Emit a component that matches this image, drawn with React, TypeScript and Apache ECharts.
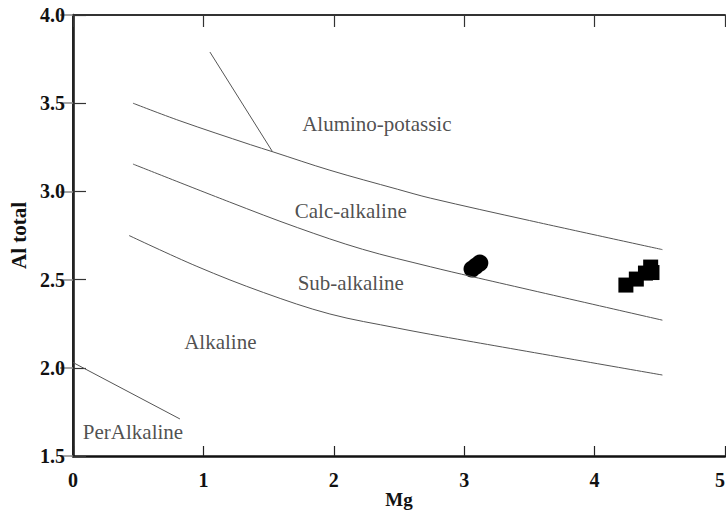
import React, { useEffect, useRef } from "react";
import * as echarts from "echarts";

// Boundary curves [Mg, Al total]
const alkPotassicLine: [number, number][] = [
  [0.46, 3.5], [0.82, 3.4], [1.36, 3.265], [1.53, 3.225], [1.97, 3.12],
  [2.49, 3.012], [2.74, 2.962], [3.5, 2.835], [4.52, 2.67],
];
const calcAlkLine: [number, number][] = [
  [0.46, 3.155], [1.2, 2.94], [1.72, 2.795], [2.22, 2.672], [2.74, 2.573],
  [3.06, 2.517], [4.52, 2.27],
];
const subAlkLine: [number, number][] = [
  [0.43, 2.75], [0.95, 2.575], [1.46, 2.427], [1.97, 2.305], [2.49, 2.225],
  [2.74, 2.19], [3.02, 2.153], [4.52, 1.959],
];
const perAlkLine: [number, number][] = [
  [0, 2.03], [0.82, 1.71],
];
const steepLine: [number, number][] = [
  [1.05, 3.79], [1.53, 3.225],
];

// Samples
const circleSamples: [number, number][] = [
  [3.06, 2.56], [3.09, 2.577], [3.12, 2.594],
];
const squareSamples: [number, number][] = [
  [4.24, 2.469], [4.32, 2.503], [4.39, 2.537], [4.43, 2.571], [4.44, 2.54],
];

// Field labels
const fieldNames = ["Alumino-potassic", "Calc-alkaline", "Sub-alkaline", "Alkaline", "PerAlkaline"];
const fieldPos: [number, number][] = [
  [2.33, 3.38], [2.13, 2.89], [2.13, 2.48], [1.13, 2.146], [0.46, 1.635],
];

const xTicks = [0, 1, 2, 3, 4, 5];
const yTicks = [1.5, 2.0, 2.5, 3.0, 3.5, 4.0];

const FONT = "'Liberation Serif', 'DejaVu Serif', serif";

export default function App() {
  const ref = useRef<HTMLDivElement>(null);
  useEffect(() => {
    if (!ref.current) return;
    const chart = echarts.init(ref.current, undefined, { renderer: "svg" });
    const lineSeries = (data: [number, number][]) => ({
      type: "line",
      data,
      smooth: 0.35,
      symbol: "none",
      silent: true,
      lineStyle: { color: "#555", width: 1 },
      xAxisIndex: 0,
      yAxisIndex: 0,
    });
    const axisLabelStyle = {
      fontFamily: FONT,
      fontWeight: "bold",
      fontSize: 20,
      color: "#111",
    };
    chart.setOption({
      animation: false,
      backgroundColor: "#ffffff",
      textStyle: { fontFamily: FONT },
      grid: {
        left: 73,
        right: 1,
        top: 15,
        bottom: 56,
        containLabel: false,
        outerBoundsMode: "none",
      },
      xAxis: [
        {
          type: "value",
          min: xTicks[0],
          max: xTicks[xTicks.length - 1],
          interval: 1,
          position: "bottom",
          name: "Mg",
          nameLocation: "middle",
          nameGap: 34,
          nameMoveOverlap: false,
          nameTextStyle: { ...axisLabelStyle, fontSize: 19, verticalAlign: "top" },
          axisLine: { show: true, lineStyle: { color: "#111", width: 2.5 } },
          axisTick: { show: true, inside: true, length: 10, lineStyle: { color: "#222", width: 1.2 } },
          axisLabel: {
            ...axisLabelStyle,
            margin: 14,
            alignMaxLabel: "right",
            formatter: (v: number) => String(v),
          },
          splitLine: { show: false },
        },
        {
          type: "value",
          min: xTicks[0],
          max: xTicks[xTicks.length - 1],
          interval: 1,
          position: "top",
          axisLine: { show: true, lineStyle: { color: "#333", width: 2 } },
          axisTick: { show: true, inside: true, length: 12, lineStyle: { color: "#333", width: 1.2 } },
          axisLabel: { show: false },
          splitLine: { show: false },
        },
      ],
      yAxis: [
        {
          type: "value",
          min: yTicks[0],
          max: yTicks[yTicks.length - 1],
          interval: 0.5,
          position: "left",
          name: "Al total",
          nameLocation: "middle",
          nameGap: 44,
          nameTextStyle: { ...axisLabelStyle, fontSize: 21 },
          axisLine: { show: true, lineStyle: { color: "#111", width: 2.5 } },
          axisTick: { show: true, inside: true, length: 13, lineStyle: { color: "#333", width: 1.2 } },
          axisLabel: { ...axisLabelStyle, margin: 8, formatter: (v: number) => v.toFixed(1) },
          splitLine: { show: false },
        },
        {
          type: "value",
          min: yTicks[0],
          max: yTicks[yTicks.length - 1],
          interval: 0.5,
          position: "right",
          axisLine: { show: true, lineStyle: { color: "#222", width: 2 } },
          axisTick: { show: true, inside: true, length: 13, lineStyle: { color: "#888", width: 1.5 } },
          axisLabel: { show: false },
          splitLine: { show: false },
        },
      ],
      series: [
        lineSeries(alkPotassicLine),
        lineSeries(calcAlkLine),
        lineSeries(subAlkLine),
        { ...lineSeries(perAlkLine), smooth: false },
        { ...lineSeries(steepLine), smooth: false },
        {
          type: "scatter",
          data: circleSamples,
          symbol: "circle",
          symbolSize: 17,
          itemStyle: { color: "#000", opacity: 1 },
          silent: true,
        },
        {
          type: "scatter",
          data: squareSamples,
          symbol: "rect",
          symbolSize: 15,
          itemStyle: { color: "#000", opacity: 1 },
          silent: true,
        },
        {
          type: "scatter",
          data: fieldNames.map((n, i) => ({ name: n, value: fieldPos[i] })),
          symbolSize: 0,
          silent: true,
          label: {
            show: true,
            position: "inside",
            formatter: "{b}",
            fontFamily: FONT,
            fontSize: 21,
            color: "#222",
          },
        },
      ],
    });
    return () => chart.dispose();
  }, []);
  return (
    <div
      ref={ref}
      style={{ position: "absolute", left: 0, top: 0, width: 726, height: 512 }}
    />
  );
}
